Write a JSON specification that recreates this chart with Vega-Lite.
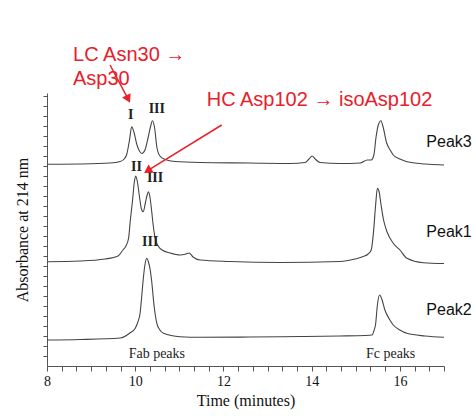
{
  "$schema": "https://vega.github.io/schema/vega-lite/v6.json",
  "width": 397,
  "height": 273,
  "autosize": "none",
  "padding": {"left": 47, "top": 93, "right": 32, "bottom": 50},
  "background": "white",
  "config": {"view": {"stroke": null}},
  "datasets": {
    "traces": [
      {"series": "Peak3", "t": 8.00, "v": 201.7},
      {"series": "Peak3", "t": 8.75, "v": 202},
      {"series": "Peak3", "t": 9.43, "v": 203},
      {"series": "Peak3", "t": 9.66, "v": 204.5},
      {"series": "Peak3", "t": 9.75, "v": 207},
      {"series": "Peak3", "t": 9.81, "v": 212},
      {"series": "Peak3", "t": 9.87, "v": 226},
      {"series": "Peak3", "t": 9.92, "v": 239.3},
      {"series": "Peak3", "t": 9.97, "v": 234},
      {"series": "Peak3", "t": 10.04, "v": 221},
      {"series": "Peak3", "t": 10.11, "v": 214},
      {"series": "Peak3", "t": 10.15, "v": 212.5},
      {"series": "Peak3", "t": 10.22, "v": 216},
      {"series": "Peak3", "t": 10.29, "v": 228},
      {"series": "Peak3", "t": 10.35, "v": 240},
      {"series": "Peak3", "t": 10.39, "v": 245.3},
      {"series": "Peak3", "t": 10.44, "v": 238},
      {"series": "Peak3", "t": 10.49, "v": 219},
      {"series": "Peak3", "t": 10.56, "v": 210},
      {"series": "Peak3", "t": 10.68, "v": 206.5},
      {"series": "Peak3", "t": 10.90, "v": 204.5},
      {"series": "Peak3", "t": 11.47, "v": 203.5},
      {"series": "Peak3", "t": 12.60, "v": 203},
      {"series": "Peak3", "t": 13.51, "v": 202.5},
      {"series": "Peak3", "t": 13.85, "v": 203.5},
      {"series": "Peak3", "t": 13.94, "v": 207},
      {"series": "Peak3", "t": 14.01, "v": 210},
      {"series": "Peak3", "t": 14.08, "v": 207},
      {"series": "Peak3", "t": 14.19, "v": 203.5},
      {"series": "Peak3", "t": 14.64, "v": 202.5},
      {"series": "Peak3", "t": 15.10, "v": 203},
      {"series": "Peak3", "t": 15.26, "v": 206},
      {"series": "Peak3", "t": 15.35, "v": 206},
      {"series": "Peak3", "t": 15.41, "v": 211},
      {"series": "Peak3", "t": 15.46, "v": 229},
      {"series": "Peak3", "t": 15.51, "v": 241},
      {"series": "Peak3", "t": 15.57, "v": 245.3},
      {"series": "Peak3", "t": 15.62, "v": 239},
      {"series": "Peak3", "t": 15.70, "v": 223},
      {"series": "Peak3", "t": 15.78, "v": 216},
      {"series": "Peak3", "t": 15.85, "v": 211},
      {"series": "Peak3", "t": 16.00, "v": 207},
      {"series": "Peak3", "t": 16.16, "v": 204.3},
      {"series": "Peak3", "t": 16.57, "v": 202},
      {"series": "Peak3", "t": 17.00, "v": 201},

      {"series": "Peak1", "t": 8.00, "v": 104.3},
      {"series": "Peak1", "t": 8.75, "v": 105},
      {"series": "Peak1", "t": 9.32, "v": 107},
      {"series": "Peak1", "t": 9.61, "v": 110},
      {"series": "Peak1", "t": 9.72, "v": 116},
      {"series": "Peak1", "t": 9.79, "v": 120},
      {"series": "Peak1", "t": 9.85, "v": 128},
      {"series": "Peak1", "t": 9.89, "v": 146},
      {"series": "Peak1", "t": 9.94, "v": 166},
      {"series": "Peak1", "t": 9.98, "v": 184},
      {"series": "Peak1", "t": 10.01, "v": 190},
      {"series": "Peak1", "t": 10.05, "v": 184},
      {"series": "Peak1", "t": 10.10, "v": 168},
      {"series": "Peak1", "t": 10.14, "v": 157},
      {"series": "Peak1", "t": 10.18, "v": 154.3},
      {"series": "Peak1", "t": 10.23, "v": 163},
      {"series": "Peak1", "t": 10.27, "v": 171},
      {"series": "Peak1", "t": 10.30, "v": 174.3},
      {"series": "Peak1", "t": 10.33, "v": 170},
      {"series": "Peak1", "t": 10.37, "v": 156},
      {"series": "Peak1", "t": 10.41, "v": 140},
      {"series": "Peak1", "t": 10.45, "v": 128},
      {"series": "Peak1", "t": 10.52, "v": 120},
      {"series": "Peak1", "t": 10.61, "v": 116},
      {"series": "Peak1", "t": 10.79, "v": 113},
      {"series": "Peak1", "t": 11.02, "v": 111},
      {"series": "Peak1", "t": 11.15, "v": 112},
      {"series": "Peak1", "t": 11.22, "v": 113},
      {"series": "Peak1", "t": 11.31, "v": 109},
      {"series": "Peak1", "t": 11.47, "v": 106},
      {"series": "Peak1", "t": 12.15, "v": 104.5},
      {"series": "Peak1", "t": 13.28, "v": 103.5},
      {"series": "Peak1", "t": 14.64, "v": 104.5},
      {"series": "Peak1", "t": 14.98, "v": 107},
      {"series": "Peak1", "t": 15.17, "v": 109.5},
      {"series": "Peak1", "t": 15.28, "v": 112},
      {"series": "Peak1", "t": 15.35, "v": 116},
      {"series": "Peak1", "t": 15.40, "v": 133},
      {"series": "Peak1", "t": 15.45, "v": 161},
      {"series": "Peak1", "t": 15.49, "v": 177.7},
      {"series": "Peak1", "t": 15.53, "v": 174},
      {"series": "Peak1", "t": 15.57, "v": 162},
      {"series": "Peak1", "t": 15.63, "v": 146},
      {"series": "Peak1", "t": 15.71, "v": 134},
      {"series": "Peak1", "t": 15.85, "v": 122.7},
      {"series": "Peak1", "t": 16.00, "v": 116},
      {"series": "Peak1", "t": 16.16, "v": 107.7},
      {"series": "Peak1", "t": 16.53, "v": 103.3},
      {"series": "Peak1", "t": 17.00, "v": 102.5},

      {"series": "Peak2", "t": 8.00, "v": 26},
      {"series": "Peak2", "t": 8.75, "v": 26.5},
      {"series": "Peak2", "t": 9.66, "v": 28},
      {"series": "Peak2", "t": 9.88, "v": 33},
      {"series": "Peak2", "t": 10.00, "v": 37.7},
      {"series": "Peak2", "t": 10.06, "v": 44},
      {"series": "Peak2", "t": 10.11, "v": 52.7},
      {"series": "Peak2", "t": 10.15, "v": 71},
      {"series": "Peak2", "t": 10.18, "v": 86},
      {"series": "Peak2", "t": 10.22, "v": 101},
      {"series": "Peak2", "t": 10.26, "v": 107.7},
      {"series": "Peak2", "t": 10.30, "v": 104},
      {"series": "Peak2", "t": 10.34, "v": 96},
      {"series": "Peak2", "t": 10.37, "v": 86},
      {"series": "Peak2", "t": 10.43, "v": 59.3},
      {"series": "Peak2", "t": 10.49, "v": 42.7},
      {"series": "Peak2", "t": 10.56, "v": 36},
      {"series": "Peak2", "t": 10.64, "v": 32.7},
      {"series": "Peak2", "t": 11.02, "v": 29.3},
      {"series": "Peak2", "t": 11.47, "v": 28.7},
      {"series": "Peak2", "t": 12.60, "v": 29},
      {"series": "Peak2", "t": 13.74, "v": 29.5},
      {"series": "Peak2", "t": 14.64, "v": 30},
      {"series": "Peak2", "t": 15.21, "v": 30.5},
      {"series": "Peak2", "t": 15.37, "v": 31},
      {"series": "Peak2", "t": 15.41, "v": 35},
      {"series": "Peak2", "t": 15.45, "v": 42},
      {"series": "Peak2", "t": 15.49, "v": 61},
      {"series": "Peak2", "t": 15.54, "v": 71},
      {"series": "Peak2", "t": 15.59, "v": 67},
      {"series": "Peak2", "t": 15.66, "v": 56},
      {"series": "Peak2", "t": 15.76, "v": 47},
      {"series": "Peak2", "t": 15.85, "v": 41},
      {"series": "Peak2", "t": 16.00, "v": 36},
      {"series": "Peak2", "t": 16.16, "v": 32.7},
      {"series": "Peak2", "t": 16.57, "v": 30},
      {"series": "Peak2", "t": 17.00, "v": 28.7}
    ],
    "labels": [
      {"kind": "red", "text": "LC Asn30 →", "t": 8.59, "v": 311.5},
      {"kind": "red", "text": "Asp30", "t": 8.59, "v": 287.5},
      {"kind": "red", "text": "HC Asp102 → isoAsp102", "t": 11.62, "v": 266},
      {"kind": "peak", "text": "Peak3", "t": 16.6, "v": 224.3},
      {"kind": "peak", "text": "Peak1", "t": 16.6, "v": 134.3},
      {"kind": "peak", "text": "Peak2", "t": 16.6, "v": 56},
      {"kind": "num", "text": "I", "t": 9.90, "v": 251},
      {"kind": "num", "text": "III", "t": 10.49, "v": 257.5},
      {"kind": "num", "text": "II", "t": 10.03, "v": 199.3},
      {"kind": "num", "text": "III", "t": 10.45, "v": 187.7},
      {"kind": "num", "text": "III", "t": 10.34, "v": 124.3},
      {"kind": "region", "text": "Fab peaks", "t": 10.49, "v": 12},
      {"kind": "region", "text": "Fc peaks", "t": 15.79, "v": 12}
    ],
    "arrows": [
      {"name": "LC", "t": 9.43, "v": 301, "t2": 9.84, "v2": 266.9},
      {"name": "HC", "t": 11.96, "v": 241, "t2": 10.28, "v2": 195.3}
    ],
    "heads": [
      {"name": "LC", "t": 9.84, "v": 266.9},
      {"name": "HC", "t": 10.28, "v": 195.3}
    ]
  },
  "encoding": {
    "x": {
      "field": "t", "type": "quantitative",
      "scale": {"domain": [8, 17], "nice": false, "zero": false},
      "axis": {
        "title": "Time (minutes)",
        "values": [8, 8.3333, 8.6667, 9, 9.3333, 9.6667, 10, 10.3333, 10.6667, 11, 11.3333, 11.6667, 12, 12.3333, 12.6667, 13, 13.3333, 13.6667, 14, 14.3333, 14.6667, 15, 15.3333, 15.6667, 16, 16.3333, 16.6667, 17],
        "labelExpr": "abs(datum.value - round(datum.value)) < 0.01 && round(datum.value) % 2 == 0 ? format(round(datum.value), 'd') : ''",
        "labelOverlap": false,
        "labelFlush": false,
        "grid": false,
        "tickSize": 5,
        "tickColor": "#555",
        "domainColor": "#555",
        "labelFont": "Liberation Serif",
        "labelFontSize": 14,
        "labelColor": "#111",
        "labelPadding": 3,
        "titleFont": "Liberation Serif",
        "titleFontSize": 16,
        "titleFontWeight": "normal",
        "titleColor": "#111",
        "titlePadding": 4
      }
    },
    "y": {
      "field": "v", "type": "quantitative",
      "scale": {"domain": [0, 273], "nice": false, "zero": false},
      "axis": {
        "title": "Absorbance at 214 nm",
        "values": [10, 20, 30, 40, 50, 60, 70, 80, 90, 100, 110, 120, 130, 140, 150, 160, 170, 180, 190, 200, 210, 220, 230, 240, 250, 260, 270],
        "labels": false,
        "grid": false,
        "tickSize": 4,
        "tickColor": "#555",
        "domainColor": "#555",
        "titleFont": "Liberation Serif",
        "titleFontSize": 16,
        "titleFontWeight": "normal",
        "titleColor": "#111",
        "titlePadding": 12
      }
    }
  },
  "layer": [
    {
      "data": {"name": "traces"},
      "mark": {"type": "line", "color": "#444444", "strokeWidth": 1.1, "interpolate": "monotone"},
      "encoding": {"detail": {"field": "series"}}
    },
    {
      "data": {"name": "labels"},
      "transform": [{"filter": "datum.kind == 'red'"}],
      "mark": {"type": "text", "align": "left", "baseline": "middle", "font": "Liberation Sans", "fontSize": 20, "color": "#e8202a"},
      "encoding": {"text": {"field": "text"}}
    },
    {
      "data": {"name": "labels"},
      "transform": [{"filter": "datum.kind == 'peak'"}],
      "mark": {"type": "text", "align": "left", "baseline": "middle", "font": "Liberation Sans", "fontSize": 16, "color": "#111"},
      "encoding": {"text": {"field": "text"}}
    },
    {
      "data": {"name": "labels"},
      "transform": [{"filter": "datum.kind == 'num'"}],
      "mark": {"type": "text", "align": "center", "baseline": "middle", "font": "Liberation Serif", "fontSize": 14, "fontWeight": "bold", "color": "#222"},
      "encoding": {"text": {"field": "text"}}
    },
    {
      "data": {"name": "labels"},
      "transform": [{"filter": "datum.kind == 'region'"}],
      "mark": {"type": "text", "align": "center", "baseline": "middle", "font": "Liberation Serif", "fontSize": 14, "color": "#222"},
      "encoding": {"text": {"field": "text"}}
    },
    {
      "data": {"name": "arrows"},
      "mark": {"type": "rule", "color": "#e8202a", "strokeWidth": 1.5},
      "encoding": {"x2": {"field": "t2"}, "y2": {"field": "v2"}}
    },
    {
      "data": {"name": "heads"},
      "transform": [{"filter": "datum.name == 'LC'"}],
      "mark": {"type": "point", "shape": "triangle-up", "filled": true, "color": "#e8202a", "size": 90, "angle": 153, "opacity": 1},
      "encoding": {}
    },
    {
      "data": {"name": "heads"},
      "transform": [{"filter": "datum.name == 'HC'"}],
      "mark": {"type": "point", "shape": "triangle-up", "filled": true, "color": "#e8202a", "size": 90, "angle": 238, "opacity": 1},
      "encoding": {}
    }
  ]
}
